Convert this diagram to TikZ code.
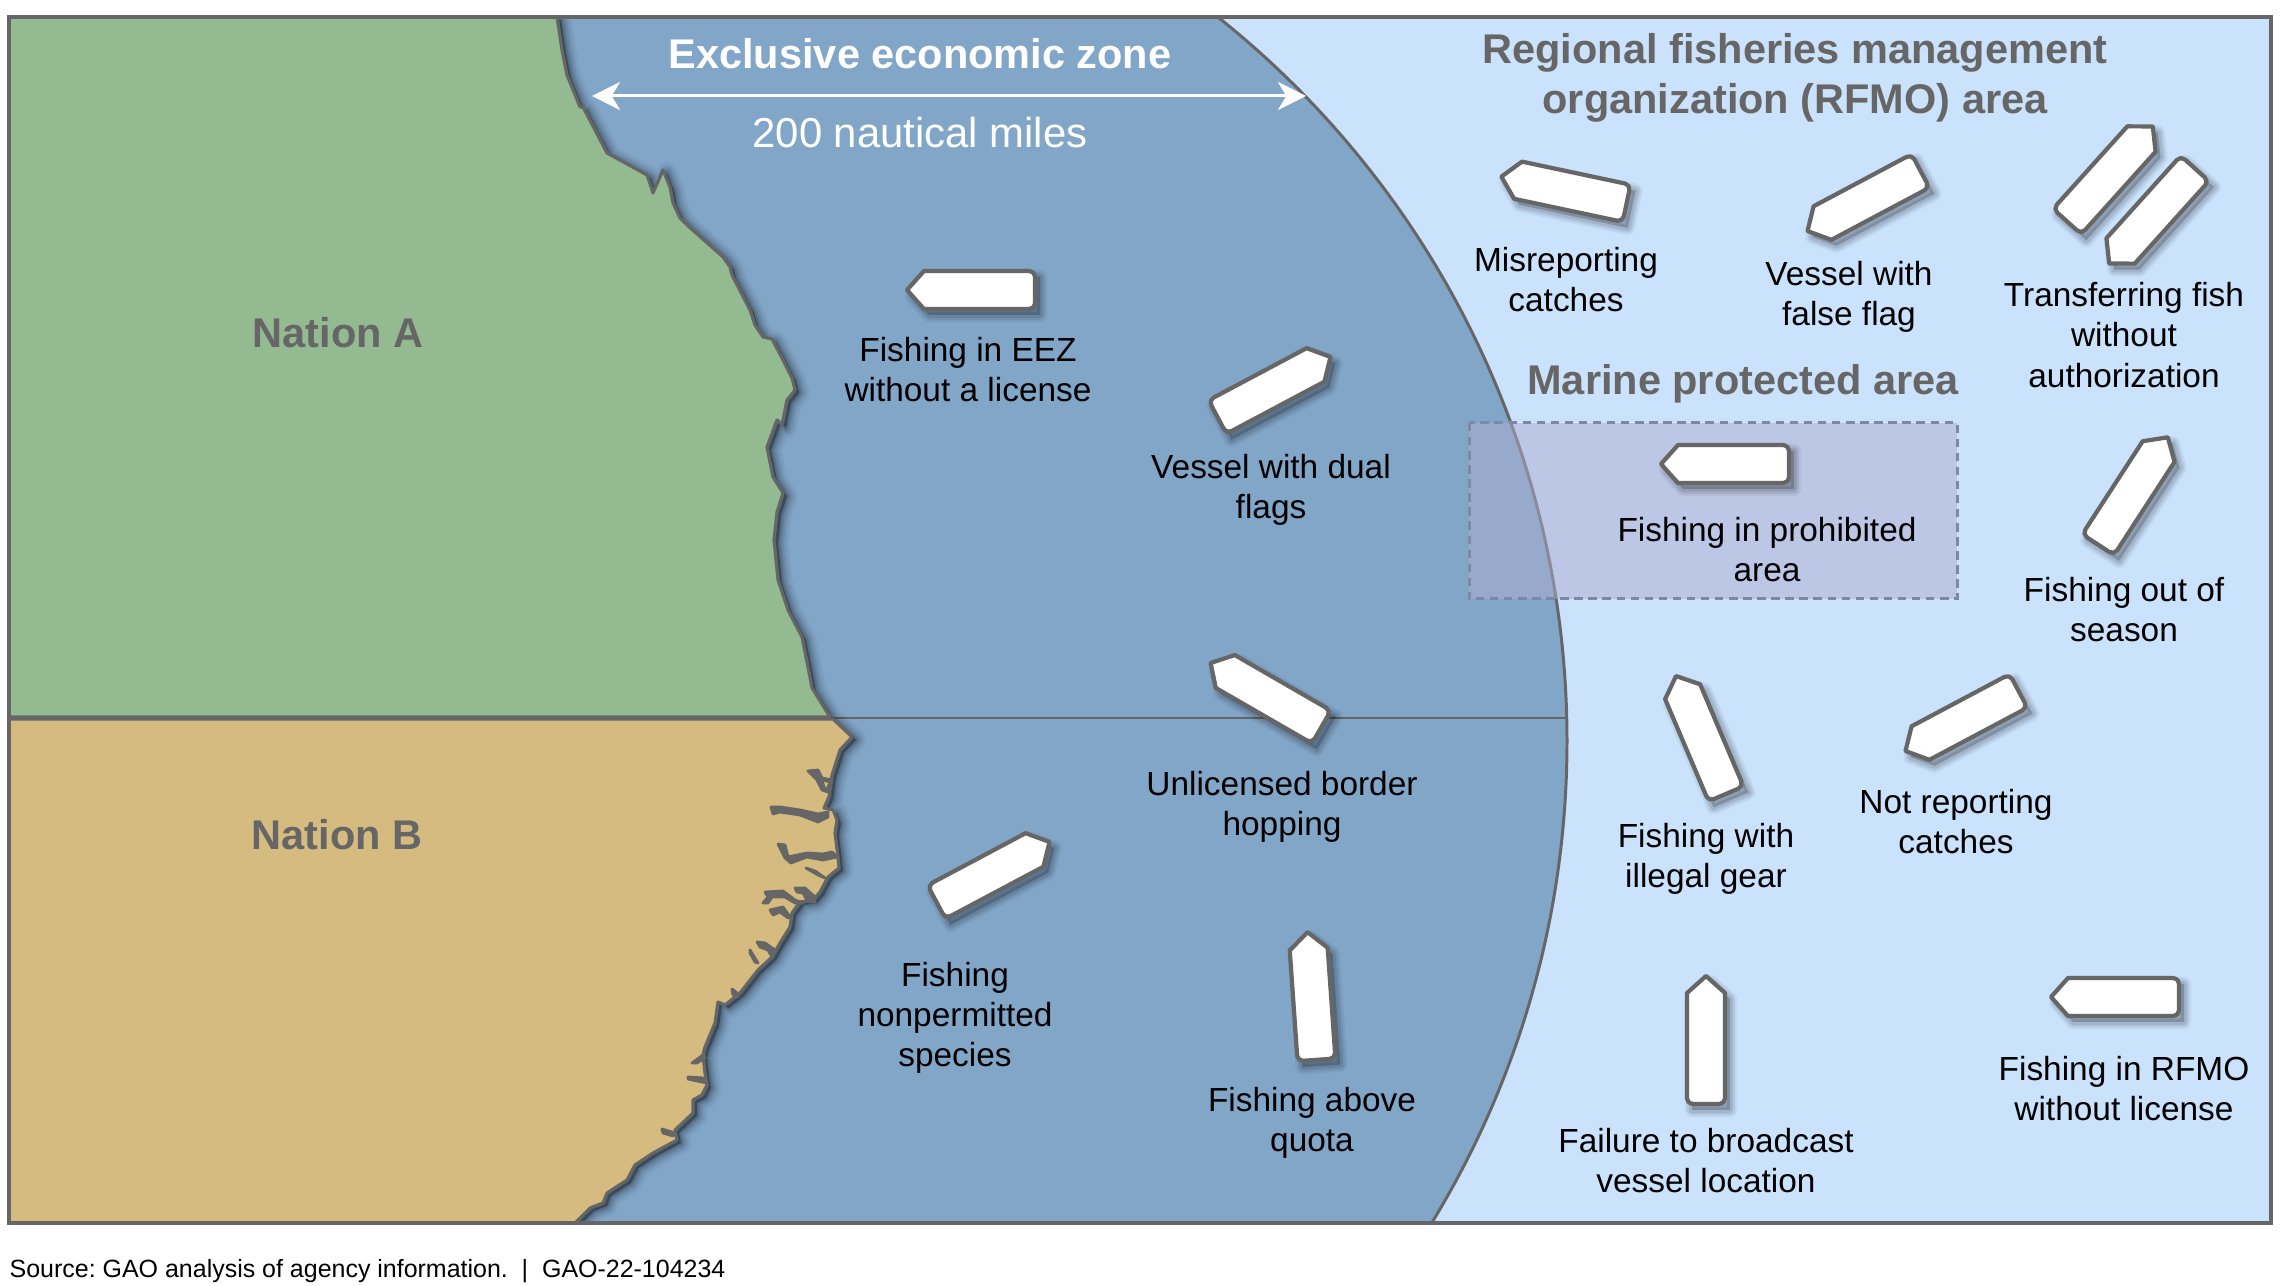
\documentclass[tikz,border=0pt]{standalone}
\usepackage{fontspec}
\setmainfont{Liberation Sans}
\usetikzlibrary{arrows.meta}
\definecolor{landA}{HTML}{94BA91}
\definecolor{landB}{HTML}{D5BB7F}
\definecolor{seaEEZ}{HTML}{82A6C8}
\definecolor{seaRFMO}{HTML}{CAE2FC}
\definecolor{edgeGray}{HTML}{666666}
\definecolor{mpaFill}{HTML}{AEAECE}
\definecolor{mpaEdge}{HTML}{7C89A6}
% Costas
\newcommand{\coastNorth}{(557,17) -- (562,50) -- (567,75) -- (580,107) -- (583,107) -- (607,153) -- (647,175) -- (653,193) -- (663,170) -- (670,187) -- (673,203) -- (680,218) -- (687,225) -- (723,257) -- (730,267) -- (732,275) -- (750,310) -- (755,325) -- (763,337) -- (772,339) -- (783,360) -- (792,378) -- (795,390) -- (787,400) -- (782,425) -- (777,420) -- (767,447) -- (773,477) -- (783,493) -- (777,512) -- (774,540) -- (778,580) -- (788,610) -- (802,637) -- (808,667) -- (812,688) -- (830,717)}
\newcommand{\coastSouth}{(833,719) -- (852,737) -- (840,750) -- (832,775) -- (829,797) -- (824,808) -- (833,810) -- (837,820) -- (835,833) -- (838,857) -- (839,868) -- (828,877) -- (820,892) -- (813,900) -- (800,902) -- (792,913) -- (790,927) -- (780,943) -- (772,957) -- (758,970) -- (740,993) -- (725,1005) -- (718,1002) -- (715,1023) -- (705,1047) -- (703,1055) -- (705,1073) -- (707,1085) -- (702,1095) -- (693,1100) -- (693,1113) -- (675,1130) -- (677,1140) -- (653,1153) -- (635,1165) -- (627,1180) -- (607,1193) -- (603,1203) -- (590,1208) -- (575,1223)}
\tikzset{
    lbl/.style={align=center, font=\fontsize{9.5}{11.4}\selectfont, text=black, inner sep=0pt},
    titleGray/.style={align=center, font=\fontsize{11.8}{14.2}\selectfont\bfseries, text=edgeGray, inner sep=0pt},
    titleWhite/.style={font=\fontsize{11.8}{14.2}\selectfont\bfseries, text=white, inner sep=0pt},
    inlet/.style={fill=edgeGray, draw=edgeGray, line width=0.8pt, line join=round},
    boatShadow/.pic={
        \foreach \w/\o in {4pt/.05,2.8pt/.07,1.6pt/.09}
            \fill[black, opacity=\o, draw=black, draw opacity=\o, line width=\w, line join=round]
                (-64,-19) -- (47,-19) -- (64,0) -- (47,19) -- (-64,19) -- cycle;
    },
    boatTop/.pic={
        \draw[fill=white, draw=edgeGray, line width=1.2pt, line join=round, rounded corners=1.6pt]
            (0,-19) -- (-64,-19) -- (-64,19) -- (0,19) [sharp corners] -- (47,19) -- (64,0) -- (47,-19) -- cycle;
    }
}
\begin{document}
\begin{tikzpicture}[x=0.01cm, y=-0.01cm]
    \useasboundingbox (0,0) rectangle (2284,1286);
    \fill[white] (0,0) rectangle (2284,1286);

    % Mar y zona
    \fill[seaRFMO] (9,17) rectangle (2271,1223);
    \begin{scope}
        \clip (9,17) rectangle (2271,1223);
        \draw[fill=seaEEZ, draw=edgeGray, line width=0.85pt] (642,741) circle (925);
        \draw[edgeGray, line width=0.8pt] (830,718) -- (1566,718);

        % Sombra de la costa
        \foreach \w/\o in {6pt/.04,4.6pt/.05,3.4pt/.07,2.2pt/.09,1.2pt/.12}
            \fill[black, opacity=\o, draw=black, draw opacity=\o, line width=\w, line join=round, shift={(4,3)}]
                (0,0) -- \coastNorth -- \coastSouth -- (0,1223) -- cycle;
    \end{scope}

    % Nacion A
    \draw[fill=landA, draw=edgeGray, line width=0.9pt, line join=round]
        (9,17) -- \coastNorth -- (9,717) -- cycle;

    % Nacion B
    \draw[fill=landB, draw=edgeGray, line width=0.9pt, line join=round]
        (9,719) -- \coastSouth -- (9,1223) -- cycle;

    % Entrantes de la costa
    \draw[inlet] (808,771) -- (818,770) -- (822,778) -- (832,780) -- (828,792) -- (822,790) -- (817,780) -- cycle;
    \fill[landB] (824,782) -- (828,783) -- (826,788) -- cycle;
    \draw[inlet] (771,807) -- (780,807) -- (800,810) -- (818,814) -- (828,812) -- (828,817) -- (818,822) -- (800,815) -- (780,812) -- (773,814) -- cycle;
    \draw[inlet] (778,844) -- (785,845) -- (788,857) -- (807,853) -- (823,854) -- (832,852) -- (837,857) -- (823,860) -- (807,857) -- (791,863) -- (785,858) -- cycle;
    \draw[inlet] (806,868) -- (815,871) -- (825,878) -- (818,875) -- cycle;
    \draw[inlet] (765,892) -- (783,891) -- (795,900) -- (803,903) -- (795,903) -- (785,897) -- (772,897) -- (768,903) -- (763,903) -- (768,897) -- cycle;
    \draw[inlet] (795,888) -- (805,888) -- (815,897) -- (815,902) -- (808,902) -- (803,893) -- (797,892) -- cycle;
    \draw[inlet] (770,910) -- (783,907) -- (790,917) -- (788,918) -- (780,912) -- (773,915) -- cycle;
    \draw[inlet] (757,942) -- (765,943) -- (775,950) -- (772,957) -- (768,950) -- (760,947) -- cycle;
    \draw[inlet] (750,950) -- (758,963) -- (755,962) -- (750,953) -- cycle;
    \draw[inlet] (732,989) -- (737,993) -- (738,997) -- (733,995) -- cycle;
    \draw[inlet] (692,1063) -- (703,1055) -- (705,1058) -- (697,1063) -- cycle;
    \draw[inlet] (688,1077) -- (703,1078) -- (707,1083) -- (697,1081) -- (688,1079) -- cycle;
    \draw[inlet] (662,1129) -- (675,1133) -- (673,1136) -- (663,1133) -- cycle;

    % Marco
    \draw[edgeGray, line width=1.3pt] (9,718) -- (830,718);
    \draw[edgeGray, line width=0.9pt] (9,17) rectangle (2271,1223);

    % Zona protegida
    \fill[mpaFill, opacity=.5] (1469,423) rectangle (1957,599);
    \draw[mpaEdge, line width=0.85pt, dash pattern=on 2.4pt off 1.6pt] (1469,423) rectangle (1957,599);

    % Flecha
    \coordinate (eezLeft) at (592,96);
    \coordinate (eezRight) at (1306,96);
    \draw[white, line width=0.85pt, {Stealth[length=8pt,width=8pt,inset=2.4pt]}-{Stealth[length=8pt,width=8pt,inset=2.4pt]}] (eezLeft) -- (eezRight);

    % Barcos
    \foreach \x/\y/\a in {971/290/180, 1274/387/28, 1266/695/150, 993/872/28, 1312/996/94,
        1564/190/168, 1864/201/208, 2110/174/48, 2152/216/228, 1725/464/180,
        2133/491/57, 1962/721/208, 1701/735/113, 1706/1040/90, 2115/997/180} {
        \pic[shift={(\x+5,\y+6)}, rotate=\a] {boatShadow};
        \pic[shift={(\x,\y)}, rotate=\a] {boatTop};
    }

    % Rotulos
    \node[titleWhite] (eezTitle) at (920,54) {Exclusive economic zone};
    \node[lbl, text=white, font=\fontsize{11.9}{14}\selectfont] (eezMiles) at (920,133) {200 nautical miles};
    \node[titleGray] (rfmoTitle) at (1795,78) {Regional fisheries management\\organization (RFMO) area};
    \node[titleGray] (mpaTitle) at (1743,384) {Marine protected area};
    \node[titleGray] (nationA) at (338,333) {Nation A};
    \node[titleGray] (nationB) at (337,835) {Nation B};

    \node[lbl] (eezLicense) at (968,370) {Fishing in EEZ\\without a license};
    \node[lbl] (dualFlags) at (1271,490) {Vessel with dual\\flags};
    \node[lbl] (borderHop) at (1282,807) {Unlicensed border\\hopping};
    \node[lbl] (nonPermitted) at (955,1018) {Fishing\\nonpermitted\\species};
    \node[lbl] (aboveQuota) at (1312,1123) {Fishing above\\quota};
    \node[lbl] (misReport) at (1566,280) {Misreporting\\catches};
    \node[lbl] (falseFlag) at (1849,297) {Vessel with\\false flag};
    \node[lbl] (transFish) at (2124,335) {Transferring fish\\without\\authorization};
    \node[lbl] (prohibArea) at (1767,550) {Fishing in prohibited\\area};
    \node[lbl] (outSeason) at (2124,610) {Fishing out of\\season};
    \node[lbl] (illegalGear) at (1706,859) {Fishing with\\illegal gear};
    \node[lbl] (notReport) at (1956,822) {Not reporting\\catches};
    \node[lbl] (noBroadcast) at (1706,1161) {Failure to broadcast\\vessel location};
    \node[lbl] (rfmoLicense) at (2124,1089) {Fishing in RFMO\\without license};

    \node[lbl, anchor=west, font=\fontsize{7.1}{9}\selectfont\frenchspacing] (source) at (9,1271) {Source: GAO analysis of agency information.~~|~~GAO-22-104234};
\end{tikzpicture}
\end{document}
